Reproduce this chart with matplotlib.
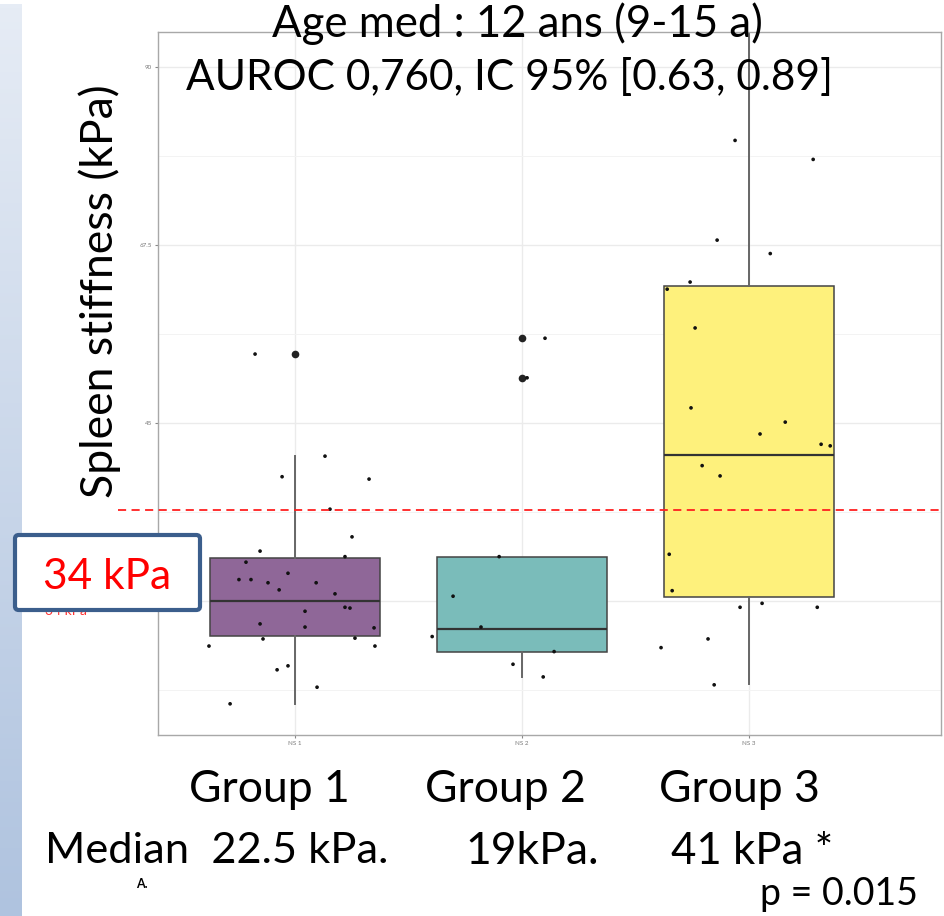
import numpy as np
import matplotlib
matplotlib.use("Agg")
import matplotlib.pyplot as plt
from matplotlib.patches import FancyBboxPatch
from matplotlib.colors import LinearSegmentedColormap, to_rgb
from matplotlib.transforms import blended_transform_factory
from matplotlib.ticker import MultipleLocator, FuncFormatter

plt.rcParams['font.family'] = ['Lato', 'DejaVu Sans']

# ---- data -------------------------------------------------------------
groups = ["Group 1", "Group 2", "Group 3"]
axis_ticklabels = ["NS 1", "NS 2", "NS 3"]
medians = [22.5, 19.0, 41.0]
q1 = [18.1, 16.1, 23.0]
q3 = [27.9, 28.1, 62.3]
whisker_low = [9.5, 12.9, 12.0]
whisker_high = [40.8, 28.1, 98.0]
outliers = [[53.7], [55.7, 50.7], []]

g1_jitter = [-0.176, 0.132, -0.057, 0.326, 0.154, 0.251, -0.154, 0.220, -0.216,
             -0.031, -0.247, -0.194, -0.119, 0.093, -0.070, 0.176, 0.044, 0.220,
             0.242, -0.154, 0.044, 0.348, -0.141, 0.264, -0.379, 0.352, -0.031,
             -0.079, 0.097, -0.286]
g1_values = [53.7, 40.8, 38.2, 37.9, 34.1, 30.6, 28.8, 28.1, 27.4,
             26.0, 25.2, 25.2, 24.8, 24.8, 23.9, 23.4, 21.2, 21.7,
             21.6, 19.6, 19.2, 19.1, 17.7, 17.8, 16.8, 16.8, 14.3,
             13.8, 11.6, 9.5]

g2_jitter = [0.101, 0.022, -0.101, -0.304, -0.181, -0.396, 0.141, -0.040, 0.093]
g2_values = [55.7, 50.7, 28.1, 23.1, 19.2, 18.0, 16.1, 14.5, 12.9]

g3_jitter = [-0.062, 0.282, -0.141, 0.093, -0.260, -0.361, -0.238, -0.256, 0.159,
             0.048, 0.317, 0.357, -0.207, -0.128, -0.352, -0.339, -0.040, 0.057,
             0.300, -0.181, -0.388, -0.154]
g3_values = [80.7, 78.3, 68.1, 66.4, 62.8, 61.9, 57.0, 46.9, 45.1,
             43.6, 42.3, 42.1, 39.6, 38.3, 28.4, 23.8, 21.7, 22.2,
             21.7, 17.7, 16.6, 11.9]

cutoff_kpa = 34
median_labels = ["Median  22.5 kPa.", "19kPa.", "41 kPa *"]
title_lines = ["Age med : 12 ans (9-15 a)", "AUROC 0,760, IC 95% [0.63, 0.89]"]
p_value_text = "p = 0.015"

box_colors = ["#440154", "#21908C", "#FDE725"]

# ---- figure -----------------------------------------------------------
W, H = 944, 916
fig = plt.figure(figsize=(W / 100, H / 100), dpi=100)


def fx(px):
    return px / W


def fy(py):
    return 1 - py / H


# slide side band
band = fig.add_axes([0, 0, fx(22), 1 - 4 / H])
grad = np.linspace(0, 1, 256).reshape(-1, 1)
band_cmap = LinearSegmentedColormap.from_list("band", ["#E6ECF5", "#AFC3DF"])
band.imshow(grad, aspect="auto", cmap=band_cmap, origin="upper")
band.axis("off")

ax = fig.add_axes([fx(158), fy(735), fx(941) - fx(158), fy(32) - fy(735)])

stats = []
for i in range(3):
    stats.append(dict(med=medians[i], q1=q1[i], q3=q3[i],
                      whislo=whisker_low[i], whishi=whisker_high[i],
                      fliers=outliers[i], label=axis_ticklabels[i]))

bp = ax.bxp(stats, positions=[1, 2, 3], widths=0.75, patch_artist=True,
            showcaps=False,
            boxprops=dict(edgecolor="#444444", linewidth=1.1),
            medianprops=dict(color="#333333", linewidth=1.6),
            whiskerprops=dict(color="#666666", linewidth=1.4),
            flierprops=dict(marker="o", markerfacecolor="#222222",
                            markeredgecolor="none", markersize=5.5))
for patch, c in zip(bp["boxes"], box_colors):
    r, g, b = to_rgb(c)
    # fill at 60 % opacity over white
    patch.set_facecolor((r * 0.6 + 0.4, g * 0.6 + 0.4, b * 0.6 + 0.4))
    patch.set_zorder(2)

for i, (jit, vals) in enumerate([(g1_jitter, g1_values),
                                  (g2_jitter, g2_values),
                                  (g3_jitter, g3_values)]):
    ax.scatter(np.array(jit) + i + 1, vals, s=7, color="#111111",
               edgecolors="none", zorder=4)

ax.set_xlim(0.3965, 3.845)
ax.set_ylim(5.56, 94.4)
ax.yaxis.set_major_locator(MultipleLocator(22.5))
ax.yaxis.set_minor_locator(MultipleLocator(11.25))
ax.yaxis.set_major_formatter(FuncFormatter(lambda v, p: f"{v:g}"))
ax.grid(which="major", color="#EBEBEB", linewidth=1.0, zorder=0)
ax.grid(which="minor", axis="y", color="#F3F3F3", linewidth=0.7, zorder=0)
ax.set_axisbelow(True)
ax.tick_params(which="major", length=2.5, width=0.8, color="#888888",
               labelsize=4.5, labelcolor="#777777", pad=2)
ax.tick_params(which="minor", length=0)
for s in ax.spines.values():
    s.set_color("#A8A8A8")
    s.set_linewidth(1.0)

# cutoff line extending across the slide
trans = blended_transform_factory(fig.transFigure, ax.transData)
ax.plot([fx(118), 1.0], [cutoff_kpa, cutoff_kpa], transform=trans,
        color="#FF2020", linewidth=1.3, linestyle=(0, (4.5, 3)),
        clip_on=False, zorder=5)

# texts
fig.text(fx(100), fy(291), "Spleen stiffness (kPa)", rotation=90,
         ha="center", va="center", fontsize=32)
fig.text(fx(517), fy(24), title_lines[0], ha="center", va="center", fontsize=31.5)
fig.text(fx(510), fy(77), title_lines[1], ha="center", va="center", fontsize=30.5)

for x, lab in zip([269, 505, 739], groups):
    fig.text(fx(x), fy(789), lab, ha="center", va="center", fontsize=32)

fig.text(fx(45), fy(851), median_labels[0], ha="left", va="center", fontsize=31.3)
fig.text(fx(532), fy(851), median_labels[1], ha="center", va="center", fontsize=32)
fig.text(fx(752), fy(851), median_labels[2], ha="center", va="center", fontsize=31.5)
fig.text(fx(839), fy(894), p_value_text, ha="center", va="center", fontsize=27)
fig.text(fx(142), fy(884), "A.", ha="center", va="center", fontsize=9,
         fontweight="bold")

# value box on the left, over a smaller red label
fig.text(fx(66), fy(611), f"{cutoff_kpa} kPa", ha="center", va="center",
         fontsize=10, color="#FF3030", zorder=1)
box = FancyBboxPatch((fx(15), fy(610)), fx(200) - fx(15), fy(535) - fy(610),
                     boxstyle="round,pad=0,rounding_size=0.004",
                     transform=fig.transFigure, facecolor="white",
                     edgecolor="#3B5E8C", linewidth=3, zorder=6)
fig.add_artist(box)
fig.text(fx(107), fy(577), f"{cutoff_kpa} kPa", ha="center", va="center",
         fontsize=30.5, color="#FF0000", zorder=7)

fig.savefig("out.png", dpi=100)
